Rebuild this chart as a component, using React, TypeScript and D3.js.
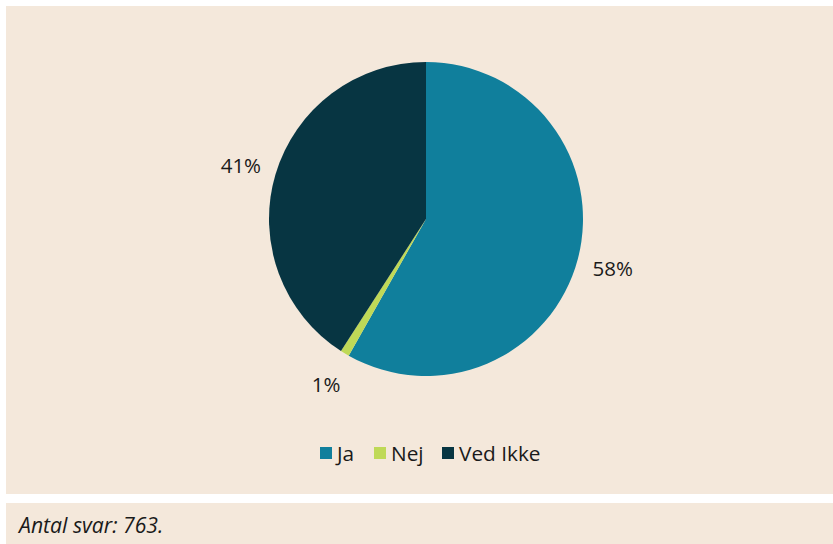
import React from "react";
import * as d3 from "d3";

const categories = ["Ja", "Nej", "Ved Ikke"];
const counts = [444, 7, 312];
const labels = ["58%", "1%", "41%"];
const colors = ["#107F9C", "#BFD957", "#073542"];
const footnote = "Antal svar: 763.";

const W = 833;
const H = 544;
const cx = 426;
const cy = 219;
const R = 157;
const labelR = 193;
const FONT = "'Open Sans', 'Noto Sans', sans-serif";
const FS = 20.5;

export default function App() {
  const pie = d3.pie<number>().sort(null).value((d) => d)(counts);
  const arc = d3.arc<d3.PieArcDatum<number>>().innerRadius(0).outerRadius(R);
  const labelArc = d3.arc<d3.PieArcDatum<number>>().innerRadius(labelR).outerRadius(labelR);

  const legendX = [320, 374, 442];

  return (
    <svg width={W} height={H} style={{ position: "absolute", left: 0, top: 0, background: "#ffffff" }}>
      <rect x={6} y={6} width={W - 6} height={488} fill="#F4E8DB" />
      <rect x={6} y={503} width={W - 6} height={H - 503} fill="#F4E8DB" />
      <g transform={`translate(${cx},${cy})`}>
        {pie.map((p, i) => (
          <path key={categories[i]} d={arc(p) || ""} fill={colors[i]} />
        ))}
        {pie.map((p, i) => {
          const [x, y] = labelArc.centroid(p);
          return (
            <text key={"l" + i} x={x} y={y} textAnchor="middle" dominantBaseline="central" fontFamily={FONT} fontSize={FS} fill="#1a1a1a">
              {labels[i]}
            </text>
          );
        })}
      </g>
      {categories.map((c, i) => (
        <g key={"lg" + i} transform={`translate(${legendX[i]},447)`}>
          <rect x={0} y={0} width={12} height={12} fill={colors[i]} />
          <text x={17} y={6} dominantBaseline="central" fontFamily={FONT} fontSize={20.8} fill="#1a1a1a">
            {c}
          </text>
        </g>
      ))}
      <text x={19} y={524} dominantBaseline="central" fontFamily={FONT} fontSize={21.2} fontStyle="italic" fill="#1a1a1a">
        {footnote}
      </text>
    </svg>
  );
}
